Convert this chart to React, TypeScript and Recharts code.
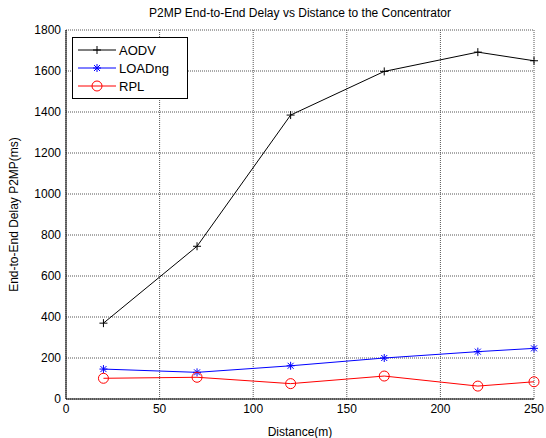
import React from 'react';
import { LineChart, Line, XAxis, YAxis, CartesianGrid, Label } from 'recharts';

const distances = [20, 70, 120, 170, 220, 250];
const aodv = [370, 745, 1385, 1598, 1692, 1650];
const loadng = [146, 130, 162, 200, 231, 247];
const rpl = [101, 106, 75, 112, 63, 84];
const xTicks = [0, 50, 100, 150, 200, 250];
const yTicks = [0, 200, 400, 600, 800, 1000, 1200, 1400, 1600, 1800];
const title = 'P2MP End-to-End Delay vs Distance to the Concentrator';
const xLabel = 'Distance(m)';
const yLabel = 'End-to-End Delay P2MP(ms)';

const data = distances.map((d, i) => ({ x: d, aodv: aodv[i], loadng: loadng[i], rpl: rpl[i] }));

const FONT = '"Liberation Sans", Arial, sans-serif';

const PlusDot = (props: any) => {
  const { cx, cy, stroke } = props;
  if (cx == null || cy == null) return null;
  const s = 4;
  return (
    <g>
      <line x1={cx - s} y1={cy} x2={cx + s} y2={cy} stroke={stroke} strokeWidth={1} />
      <line x1={cx} y1={cy - s} x2={cx} y2={cy + s} stroke={stroke} strokeWidth={1} />
    </g>
  );
};

const StarDot = (props: any) => {
  const { cx, cy, stroke } = props;
  if (cx == null || cy == null) return null;
  const s = 4;
  const d = 3;
  return (
    <g>
      <line x1={cx - s} y1={cy} x2={cx + s} y2={cy} stroke={stroke} strokeWidth={1} />
      <line x1={cx} y1={cy - s} x2={cx} y2={cy + s} stroke={stroke} strokeWidth={1} />
      <line x1={cx - d} y1={cy - d} x2={cx + d} y2={cy + d} stroke={stroke} strokeWidth={1} />
      <line x1={cx - d} y1={cy + d} x2={cx + d} y2={cy - d} stroke={stroke} strokeWidth={1} />
    </g>
  );
};

const CircleDot = (props: any) => {
  const { cx, cy, stroke } = props;
  if (cx == null || cy == null) return null;
  return <circle cx={cx} cy={cy} r={5} stroke={stroke} fill="none" strokeWidth={1} />;
};

const series = [
  { key: 'aodv', name: 'AODV', color: '#000000', Dot: PlusDot },
  { key: 'loadng', name: 'LOADng', color: '#0000ff', Dot: StarDot },
  { key: 'rpl', name: 'RPL', color: '#ff0000', Dot: CircleDot },
];

const LegendBox = () => (
  <div
    style={{
      position: 'absolute',
      left: 72,
      top: 37,
      border: '1px solid #000',
      background: '#fff',
      width: 116,
      height: 62,
      boxSizing: 'border-box',
      fontFamily: FONT,
      fontSize: 12,
    }}
  >
    <svg width={114} height={60} style={{ display: 'block' }}>
      {series.map((s, i) => {
        const y = 12 + i * 18;
        const Dot = s.Dot;
        return (
          <g key={s.key}>
            <line x1={5} y1={y} x2={43} y2={y} stroke={s.color} strokeWidth={1} />
            <Dot cx={24} cy={y} stroke={s.color} />
            <text x={46} y={y + 5} fontSize={13} fontFamily={FONT} fill="#000">
              {s.name}
            </text>
          </g>
        );
      })}
    </svg>
  </div>
);

export default function App() {
  return (
    <div style={{ position: 'absolute', left: 0, top: 0, width: 546, height: 438, background: '#fff' }}>
      <div
        style={{
          position: 'absolute',
          left: 0,
          width: 600,
          top: 6,
          textAlign: 'center',
          fontFamily: FONT,
          fontSize: 12,
          color: '#000',
          lineHeight: '14px',
        }}
      >
        {title}
      </div>
      <LineChart
        width={546}
        height={438}
        data={data}
        margin={{ top: 30, right: 12, left: 0, bottom: 0 }}
        style={{ fontFamily: FONT }}
      >
        <CartesianGrid
          xAxisId="b"
          yAxisId="l"
          stroke="#555"
          strokeDasharray="1 1"
          strokeWidth={1}
        />
        <XAxis
          xAxisId="b0"
          dataKey="x"
          type="number"
          domain={[0, 250]}
          ticks={xTicks}
          interval={0}
          height={0}
          mirror
          tick={false}
          tickSize={3}
          tickLine={{ stroke: '#000' }}
          axisLine={false}
        />
        <XAxis
          xAxisId="b"
          dataKey="x"
          type="number"
          domain={[0, 250]}
          ticks={xTicks}
          interval={0}
          height={39}
          tickLine={false}
          tickSize={0}
          tickMargin={5}
          axisLine={{ stroke: '#000' }}
          tick={{ fill: '#000', fontSize: 12 }}
        >
          <Label value={xLabel} position="insideBottom" offset={2} style={{ fill: '#000', fontSize: 12 }} />
        </XAxis>
        <XAxis
          xAxisId="t"
          orientation="top"
          dataKey="x"
          type="number"
          domain={[0, 250]}
          ticks={xTicks}
          height={0}
          mirror
          tick={false}
          tickSize={3}
          tickLine={{ stroke: '#000' }}
          axisLine={{ stroke: '#000' }}
        />
        <YAxis
          yAxisId="l0"
          type="number"
          domain={[0, 1800]}
          ticks={yTicks}
          interval={0}
          width={0}
          mirror
          tick={false}
          tickSize={3}
          tickLine={{ stroke: '#000' }}
          axisLine={false}
        />
        <YAxis
          yAxisId="l"
          type="number"
          domain={[0, 1800]}
          ticks={yTicks}
          interval={0}
          width={66}
          tickLine={false}
          tickSize={0}
          tickMargin={5}
          axisLine={{ stroke: '#000' }}
          tick={{ fill: '#000', fontSize: 12 }}
        >
          <Label
            value={yLabel}
            angle={-90}
            position="insideLeft"
            offset={14}
            style={{ fill: '#000', fontSize: 12, textAnchor: 'middle' }}
          />
        </YAxis>
        <YAxis
          yAxisId="r"
          orientation="right"
          type="number"
          domain={[0, 1800]}
          ticks={yTicks}
          width={0}
          mirror
          tick={false}
          tickSize={3}
          tickLine={{ stroke: '#000' }}
          axisLine={{ stroke: '#000' }}
        />
        {series.map((s) => (
          <Line
            key={s.key}
            xAxisId="b"
            yAxisId="l"
            dataKey={s.key}
            name={s.name}
            stroke={s.color}
            strokeWidth={1}
            type="linear"
            isAnimationActive={false}
            dot={<s.Dot stroke={s.color} />}
            activeDot={false}
          />
        ))}
      </LineChart>
      <LegendBox />
    </div>
  );
}
